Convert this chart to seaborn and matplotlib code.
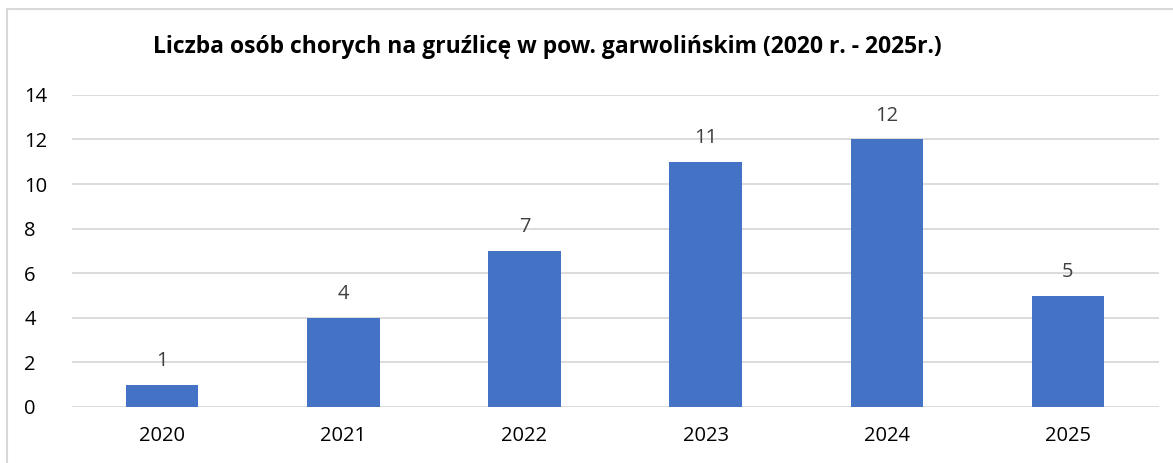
import matplotlib
matplotlib.use("Agg")
import matplotlib.pyplot as plt
import seaborn as sns
import pandas as pd
from matplotlib.patches import Rectangle

years = ["2020", "2021", "2022", "2023", "2024", "2025"]
cases = [1, 4, 7, 11, 12, 5]
title = "Liczba osób chorych na gruźlicę w pow. garwolińskim (2020 r. - 2025r.)"

sns.set_theme(style="white")
plt.rcParams["font.family"] = ["Open Sans", "DejaVu Sans"]

df = pd.DataFrame({"rok": years, "liczba": cases})

fig = plt.figure(figsize=(11.73, 4.63), dpi=100)
ax = fig.add_axes([0.061, 0.121, 0.9267, 0.674])

sns.barplot(data=df, x="rok", y="liczba", color="#4472C4", width=0.4,
            saturation=1, linewidth=0, ax=ax, zorder=3)

ax.set_ylim(0, 14)
ax.set_yticks(range(0, 15, 2))
ax.yaxis.grid(True, color="#D9D9D9", linewidth=1.3, zorder=0)
ax.set_axisbelow(True)
for s in ax.spines.values():
    s.set_visible(False)
ax.set_xlabel("")
ax.set_ylabel("")
ax.tick_params(axis="both", length=0, labelsize=14.5, colors="#000000")
ax.tick_params(axis="x", pad=14)
ax.tick_params(axis="y", pad=34)
for lbl in ax.get_yticklabels():
    lbl.set_horizontalalignment("left")

for c in ax.containers:
    ax.bar_label(c, labels=[str(v) for v in cases], padding=10,
                 fontsize=14.5, color="#404040")

fig.text(0.467, 0.898, title, ha="center", va="center", fontsize=16.5,
         fontweight="bold", color="#000000")

# chart frame (partially visible, as in the screenshot)
fig.patches.append(Rectangle((7 / 1173, -0.1), 1.2, 1 - 9 / 463 + 0.1,
                             transform=fig.transFigure, fill=False,
                             edgecolor="#D9D9D9", linewidth=1.5))

fig.savefig("out.png", dpi=100, facecolor="white")
